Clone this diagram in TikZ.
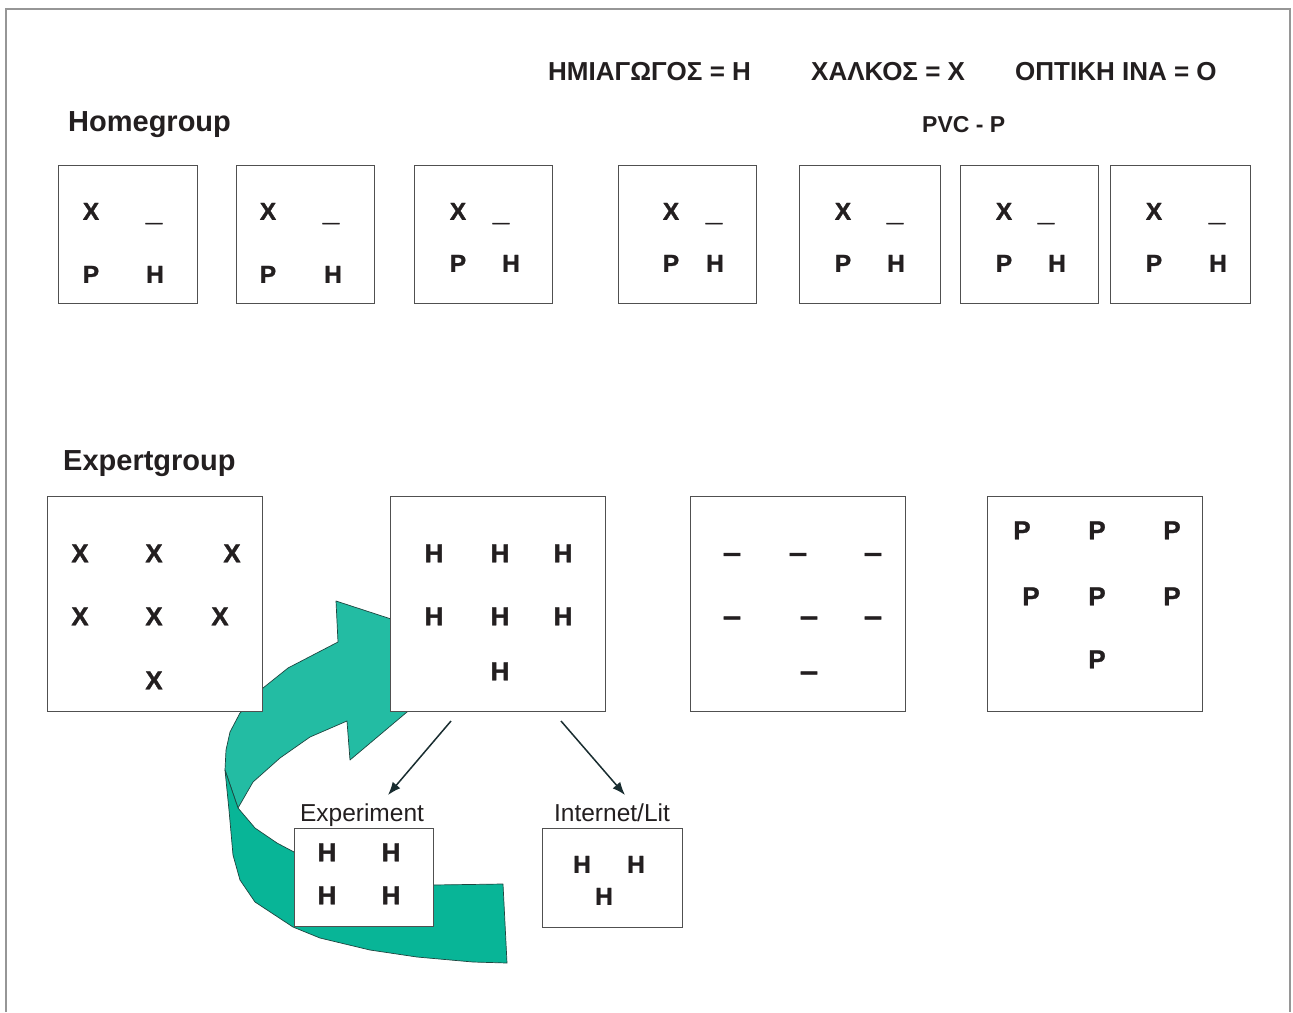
\documentclass[tikz,border=0pt]{standalone}
\usepackage{fontspec}
\setmainfont{Liberation Sans}
\usetikzlibrary{arrows.meta}
\definecolor{ink}{RGB}{35,31,32}
\definecolor{greenA}{RGB}{35,188,163}
\definecolor{greenB}{RGB}{8,181,151}
\definecolor{edgeC}{RGB}{30,70,64}
\definecolor{boxline}{RGB}{80,80,80}
\definecolor{framec}{RGB}{150,150,150}
\definecolor{arrowc}{RGB}{25,45,48}
\tikzset{
  box/.style={draw=boxline, line width=0.9pt, fill=white, inner sep=0pt},
  letA/.style={font=\bfseries\fontsize{24.5}{28}\selectfont\addfontfeatures{FakeBold=1.2}, text=ink, anchor=base, inner sep=0pt},
  barA/.style={font=\bfseries\fontsize{24}{28}\selectfont\addfontfeatures{FakeBold=3,FakeStretch=1.2}, text=ink, anchor=base, inner sep=0pt, yshift=-1.5pt},
  letB/.style={font=\bfseries\fontsize{26}{30}\selectfont\addfontfeatures{FakeBold=1.2}, text=ink, anchor=base, inner sep=0pt},
  barB/.style={font=\bfseries\fontsize{26}{30}\selectfont\addfontfeatures{FakeBold=3,FakeStretch=1.25}, text=ink, anchor=base, inner sep=0pt},
  letC/.style={font=\bfseries\fontsize{24.5}{28}\selectfont\addfontfeatures{FakeBold=1.2}, text=ink, anchor=base, inner sep=0pt},
  head/.style={font=\bfseries\fontsize{29}{33}\selectfont, text=ink, anchor=base west, inner sep=0pt},
  legend/.style={font=\bfseries\fontsize{26}{30}\selectfont, text=ink, anchor=base west, inner sep=0pt},
  sublbl/.style={font=\fontsize{24.5}{28}\selectfont, text=ink, anchor=base, inner sep=0pt},
  link/.style={draw=arrowc, line width=1.5pt, -{Latex[length=13pt,width=10pt]}},
  ribbon/.style={draw=edgeC, line width=0.7pt, line join=round}
}
\begin{document}
\begin{tikzpicture}[x=1pt,y=-1pt]
\useasboundingbox (0,0) rectangle (1293,1012);
\fill[white] (0,0) rectangle (1293,1012);
% frame
\draw[framec, line width=1.3pt] (6,1012) -- (6,9) -- (1290,9) -- (1290,1012);

% legend
\node[legend] (lgH) at (548,80) {ΗΜΙΑΓΩΓΟΣ = Η};
\node[legend] (lgX) at (811,80) {ΧΑΛΚΟΣ = Χ};
\node[legend] (lgO) at (1015,80) {ΟΠΤΙΚΗ ΙΝΑ = Ο};
\node[legend, font=\bfseries\fontsize{23}{27}\selectfont] (lgP) at (922,132) {PVC - P};

% headings
\node[head] (homeh) at (68,131) {Homegroup};
\node[head] (exph) at (63,470) {Expertgroup};

% home boxes
\foreach \i/\cx/\w in {1/127.5/139, 2/305/138, 3/483/138, 4/687/138, 5/869.5/141, 6/1029/138, 7/1180/140}{
  \node[box, minimum width=\w pt, minimum height=138pt] (hb\i) at (\cx,234) {};
}
\foreach \i/\xa/\xb/\xp/\xh/\yb in {1/91/154/91/155/282.8, 2/268/331/268/333/282.8, 3/458/501/458/511/271.8, 4/671/714/671/715/271.8, 5/843/895/843/896/271.8, 6/1004/1046/1004/1057/271.8, 7/1154/1217/1154/1218/271.8}{
  \node[letA] (hx\i) at (\xa,219.8) {X};
  \node[barA] (hd\i) at (\xb,219.6) {\_};
  \node[letA] (hp\i) at (\xp,\yb) {P};
  \node[letA] (hh\i) at (\xh,\yb) {H};
}

% green ribbon arrow
\filldraw[ribbon, fill=greenA] (336,601) -- (388,618) -- (482,649) -- (407,712) -- (350,760) -- (347,721)
  -- (310,737) -- (280,758) -- (253,782) -- (238,808) -- (225,770) -- (226,750) -- (230,732) -- (240,713)
  -- (255,700) -- (263,688) -- (288,668) -- (338,642) -- cycle;
\filldraw[ribbon, fill=greenB] (238,808) -- (255,828) -- (277,843) -- (294,852) -- (433,885) -- (503,884)
  -- (507,963) -- (473,962) -- (417,957) -- (370,950) -- (320,938) -- (293,927) -- (255,902)
  -- (240,880) -- (233,855) -- (229,810) -- (225,770) -- cycle;

% expert boxes
\foreach \i/\cx in {1/154.5, 2/497.5, 3/797.5, 4/1094.5}{
  \node[box, minimum width=215pt, minimum height=215pt] (eb\i) at (\cx,603.5) {};
}
% E1: X
\foreach \j/\x/\y in {1/80/562.3, 2/154/562.3, 3/232/562.3, 4/80/625.3, 5/154/625.3, 6/220/625.3, 7/154/689.3}{
  \node[letB] (ex\j) at (\x,\y) {X};
}
% E2: H
\foreach \j/\x/\y in {1/434/562.3, 2/500/562.3, 3/563/562.3, 4/434/625.3, 5/500/625.3, 6/563/625.3, 7/500/680.3}{
  \node[letB] (eh\j) at (\x,\y) {H};
}
% E3: dashes
\foreach \j/\x/\y in {1/732/561.5, 2/798/561.5, 3/873/561.5, 4/732/625, 5/809/625, 6/873/625, 7/809/680}{
  \node[barB] (ed\j) at (\x,\y) {–};
}
% E4: P
\foreach \j/\x/\y in {1/1022/539.3, 2/1097/539.3, 3/1172/539.3, 4/1031/605.3, 5/1097/605.3, 6/1172/605.3, 7/1097/668.3}{
  \node[letB] (ep\j) at (\x,\y) {P};
}

% sub boxes
\node[box, minimum width=139pt, minimum height=98pt] (expbox) at (363.5,877) {};
\node[box, minimum width=140pt, minimum height=99pt] (netbox) at (612,877.5) {};
\node[sublbl] (explbl) at (362,821) {Experiment};
\node[sublbl] (netlbl) at (612,821) {Internet/Lit};
\foreach \j/\x/\y in {1/327/861.3, 2/391/861.3, 3/327/904.3, 4/391/904.3}{
  \node[letB] (xh\j) at (\x,\y) {H};
}
\foreach \j/\x/\y in {1/582/872.8, 2/636/872.8, 3/604/904.8}{
  \node[letC] (nh\j) at (\x,\y) {H};
}

% arrows
\coordinate (a1s) at (451,721);
\coordinate (a1e) at (388,795);
\coordinate (a2s) at (561,721);
\coordinate (a2e) at (625,795);
\draw[link] (a1s) -- (a1e);
\draw[link] (a2s) -- (a2e);
\end{tikzpicture}
\end{document}
